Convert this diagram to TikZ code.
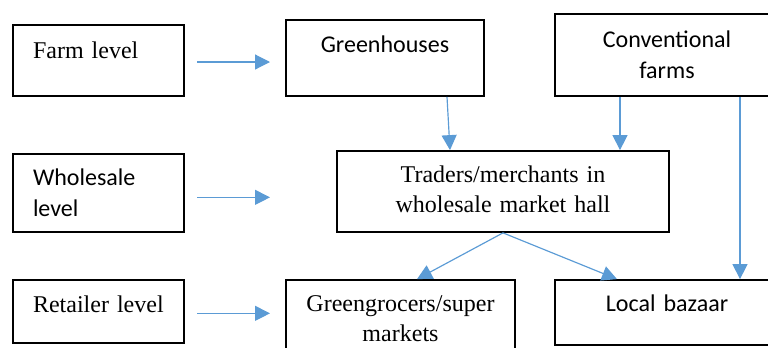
\documentclass[tikz,border=0pt]{standalone}
\usepackage{fontspec}
\setmainfont{Liberation Serif}
\newfontfamily\calibfont{Carlito}
\usepackage{tikz}
\usetikzlibrary{arrows.meta, positioning}
\definecolor{arrowblue}{RGB}{91,155,213}

\begin{document}
\begin{tikzpicture}[
    box/.style={draw=black, line width=1.5pt, inner xsep=0.3cm, inner ysep=0pt,
                text height=0.48cm, align=center,
                font=\fontsize{20.5}{25.6}\selectfont},
    lvlbox/.style={box, align=left, inner xsep=0.6cm, text width=3.93cm,
                   minimum width=5.13cm},
    sans/.style={font=\fontsize{20.5}{26.5}\calibfont},
    arr/.style={-{Triangle[length=0.45cm, width=0.45cm]}, line width=1pt, arrowblue}
]
\useasboundingbox (0,0) rectangle (23.04,-10.41);

% Ligne 1 : farm level
\node[lvlbox, minimum height=2.13cm, text depth=0.612cm] (farm) at (2.955,-1.815) {Farm level};
\node[box, sans, text width=5.34cm, minimum height=2.28cm, text depth=0.84cm] (green) at (11.55,-1.74) {Greenhouses};
\node[box, sans, text width=6.12cm, minimum height=2.46cm, text depth=0.96cm] (conv) at (20.01,-1.65) {Conventional\\farms};

% Ligne 2 : wholesale level
\node[lvlbox, sans, minimum height=2.34cm, text depth=0.918cm] (whole) at (2.955,-5.79) {Wholesale\\level};
\node[box, text width=9.36cm, minimum height=2.43cm, text depth=1.008cm] (traders) at (15.09,-5.745) {Traders/merchants in\\wholesale market hall};

% Ligne 3 : retailer level
\node[lvlbox, minimum height=1.89cm, text depth=0.432cm] (retail) at (2.955,-9.345) {Retailer level};
\node[box, text width=6.27cm, minimum height=2.16cm, text depth=0.738cm] (grocers) at (12.015,-9.48) {Greengrocers/super\\markets};
\node[box, sans, text width=6.12cm, minimum height=1.95cm, text depth=0.528cm] (bazaar) at (20.01,-9.375) {Local bazaar};

% Flèches des niveaux
\coordinate (l1a) at (5.91,-1.86);
\coordinate (l1b) at (8.1,-1.86);
\coordinate (l2a) at (5.91,-5.92);
\coordinate (l2b) at (8.1,-5.92);
\coordinate (l3a) at (5.91,-9.4);
\coordinate (l3b) at (8.1,-9.4);
\draw[arr] (l1a) -- (l1b);
\draw[arr] (l2a) -- (l2b);
\draw[arr] (l3a) -- (l3b);

% Flèches producteurs -> marchands
\draw[arr] (green.south -| 13.41,0) -- (traders.north -| 13.5,0);
\draw[arr] (conv.south -| 18.6,0) -- (traders.north -| 18.6,0);
\draw[arr] (conv.south -| 22.2,0) -- (bazaar.north -| 22.2,0);

% Flèches marchands -> détaillants
\draw[arr] (traders.south) -- (grocers.north -| 12.51,0);
\draw[arr] (traders.south) -- (bazaar.north -| 18.51,0);

\end{tikzpicture}
\end{document}
